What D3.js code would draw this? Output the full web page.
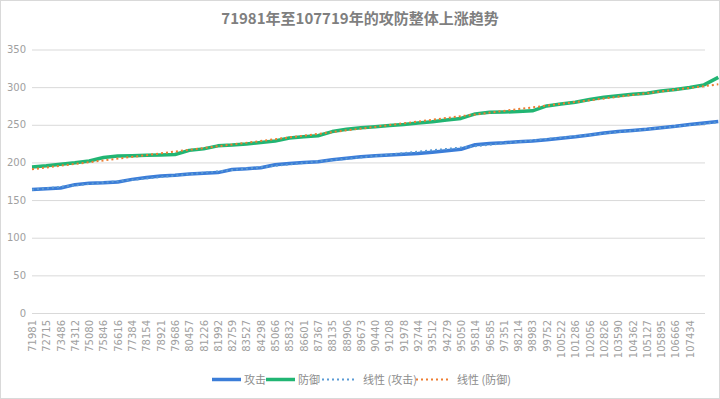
<!DOCTYPE html>
<html><head><meta charset="utf-8">
<script src="https://cdn.jsdelivr.net/npm/d3@7"></script>
<style>
html,body{margin:0;padding:0;background:#fff;}
svg{display:block;font-family:"Noto Sans CJK SC","Noto Sans",sans-serif;}
</style></head>
<body>
<svg id="c" width="720" height="399"></svg>
<script>
const title = "71981年至107719年的攻防整体上涨趋势";
const categories = ["71981","72715","73486","74312","75080","75846","76616","77384","78154","78921","79686","80457","81226","81992","82759","83527","84298","85066","85832","86601","87367","88135","88906","89673","90440","91208","91978","92744","93512","94279","95050","95814","96585","97351","98214","98983","99752","100522","101286","102056","102826","103590","104362","105127","105895","106666","107434","107719"];
const tickLabels = categories.slice(0, 47);
const attack = [164,165,166,170.5,172.5,173,174,177.5,180,182,183,184.5,185.5,186.5,190.5,191.5,193,197,198.5,200,201,203.5,205.5,207.5,209,210,211,212,213.5,215.5,217.5,223.5,225,226,227.5,228.5,230,232,234,236.5,239,241,242.5,244,246,248,250.5,252.5,254.5];
const defense = [194,195.5,197.5,199.5,202,206.5,208.5,209,209.5,210,210.5,216,218,222,223,224.5,226.5,228.5,232.5,234,235.5,241,244,246,247.5,249,250.5,252.5,254,256.5,258.5,264.5,266.5,267,267.5,268.5,275,277.5,280,283.5,286.5,288.5,290.5,292,295,297,299.5,303,313];
const yTicks = [0,50,100,150,200,250,300,350];
const seriesNames = ["攻击","防御","线性 (攻击)","线性 (防御)"];

const cats = categories;
const W = 720, H = 399;
const svg = d3.select("#c");
svg.append("rect").attr("x",0.5).attr("y",0.5).attr("width",W-1).attr("height",H-1)
  .attr("fill","#fff").attr("stroke","#d9d9d9");

const x = d3.scaleLinear().domain([0, cats.length - 1]).range([32, 704]);
const y = d3.scaleLinear().domain([0, 350]).range([313, 49.5]);

const yAxis = d3.axisLeft(y).tickValues(yTicks).tickSize(-(705-32)).tickPadding(6);
const gy = svg.append("g").attr("transform","translate(32,0)").call(yAxis);
gy.select(".domain").remove();
gy.selectAll(".tick line").attr("stroke","#d9d9d9").attr("stroke-width",1);
gy.selectAll(".tick text").attr("fill","#a0a0a0").style("font-size","10px")
  .style("font-family","'DejaVu Sans',sans-serif");

const xAxis = d3.axisBottom(x).tickValues(d3.range(tickLabels.length)).tickFormat(i => tickLabels[i]).tickSize(0);
const gx = svg.append("g").attr("transform","translate(0,313)").call(xAxis);
gx.select(".domain").attr("stroke","#d9d9d9").attr("d","M32,0.5H705");
gx.selectAll(".tick text").attr("fill","#a0a0a0").style("font-size","10px")
  .style("font-family","'DejaVu Sans',sans-serif")
  .attr("text-anchor","end").attr("dy","0.35em").attr("dx",0)
  .attr("transform","translate(0,7) rotate(-90)").attr("y",0).attr("x",0);

svg.append("text").attr("x",360).attr("y",24).attr("text-anchor","middle")
  .attr("fill","#7f7f7f").style("font-size","15px").style("font-weight","bold").text(title);

function regression(vals){
  const n = vals.length, xs = d3.range(n);
  const mx = d3.mean(xs), my = d3.mean(vals);
  let sxy=0, sxx=0;
  xs.forEach((xi,i)=>{sxy+=(xi-mx)*(vals[i]-my); sxx+=(xi-mx)*(xi-mx);});
  const b = sxy/sxx, a = my - b*mx;
  return [[0,a],[n-1,a+b*(n-1)]];
}

const line = d3.line().x((d,i)=>x(i)).y(d=>y(d));
const lineXY = d3.line().x(d=>x(d[0])).y(d=>y(d[1]));

svg.append("path").datum(attack).attr("d",line).attr("fill","none")
  .attr("stroke","#3b7dd8").attr("stroke-width",3.5).attr("stroke-linejoin","round");
svg.append("path").datum(defense).attr("d",line).attr("fill","none")
  .attr("stroke","#21b573").attr("stroke-width",3.5).attr("stroke-linejoin","round");
svg.append("path").datum(regression(attack)).attr("d",lineXY).attr("fill","none")
  .attr("stroke","#5b9bd5").attr("stroke-width",2).attr("stroke-dasharray","2,3");
svg.append("path").datum(regression(defense)).attr("d",lineXY).attr("fill","none")
  .attr("stroke","#ed7d31").attr("stroke-width",2).attr("stroke-dasharray","2,3");

const leg = [
  {name:seriesNames[0], x:212, color:"#3b7dd8", w:3.5, dash:null},
  {name:seriesNames[1], x:266, color:"#21b573", w:3.5, dash:null},
  {name:seriesNames[2], x:322, color:"#5b9bd5", w:2, dash:"2,3"},
  {name:seriesNames[3], x:416, color:"#ed7d31", w:2, dash:"2,3"}
];
const lg = svg.append("g");
leg.forEach(l=>{
  const len = l.dash ? 34 : 29;
  lg.append("line").attr("x1",l.x).attr("x2",l.x+len).attr("y1",379.5).attr("y2",379.5)
    .attr("stroke",l.color).attr("stroke-width",l.w).attr("stroke-dasharray",l.dash);
  lg.append("text").attr("x",l.x+len+(l.dash?7:3)).attr("y",383.5).attr("fill","#8c8c8c")
    .style("font-size","11px").text(l.name);
});
</script>
</body></html>
